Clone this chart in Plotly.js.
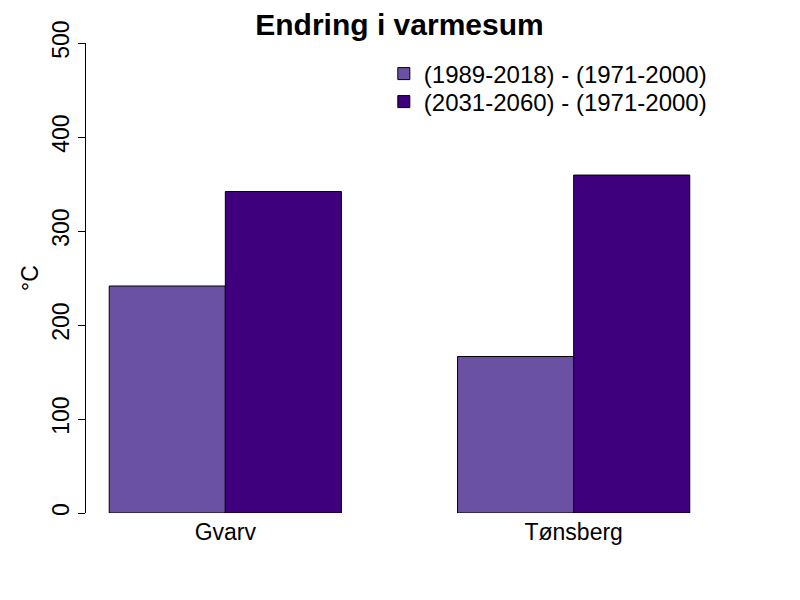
<!DOCTYPE html>
<html>
<head>
<meta charset="utf-8">
<script src="https://cdn.plot.ly/plotly-3.0.1.min.js"></script>
<style>html,body{margin:0;padding:0;background:#fff}#chart{width:800px;height:600px}</style>
</head>
<body>
<div id="chart"></div>
<script>
const categories = ["Gvarv", "Tønsberg"];
const seriesNames = ["(1989-2018) - (1971-2000)", "(2031-2060) - (1971-2000)"];
const recentChange = [241.5, 166.5];
const futureChange = [342.0, 359.5];
const yTickVals = [0, 100, 200, 300, 400, 500];
const colors = ["#6A51A3", "#3F007D"];

const FONT = "Liberation Sans, Arial, sans-serif";

const legendIds = ["legend", "legend2"];
const traces = [recentChange, futureChange].map((vals, i) => ({
  type: "bar",
  name: seriesNames[i],
  x: categories,
  y: vals,
  legend: legendIds[i],
  marker: {color: colors[i], line: {color: colors[i], width: 0}},
  hoverinfo: "skip"
}));

const legendBase = {
  x: 0.475, xanchor: "left", yanchor: "middle",
  bgcolor: "rgba(0,0,0,0)",
  font: {family: FONT, size: 24, color: "#000"},
  itemclick: false
};

const layout = {
  width: 800, height: 600,
  paper_bgcolor: "#fff", plot_bgcolor: "#fff",
  font: {family: FONT, color: "#000", size: 23},
  margin: {l: 86, r: 87, t: 43, b: 87, pad: 0},
  barmode: "group",
  bargap: 1/3,
  bargroupgap: 0,
  title: {
    text: "<b>Endring i varmesum</b>",
    font: {family: FONT, size: 30, color: "#000"},
    x: 0.5, xref: "paper", xanchor: "center",
    y: 1 - 24/600, yref: "container", yanchor: "middle"
  },
  xaxis: {
    type: "category",
    range: [-0.4, 1.4],
    showline: false, showgrid: false, zeroline: false,
    ticks: "", ticklabelstandoff: 3,
    tickfont: {family: FONT, size: 23, color: "#000"}
  },
  yaxis: {
    range: [0, 500],
    tickvals: yTickVals,
    ticktext: yTickVals.map(String),
    tickangle: -90,
    showline: true, linecolor: "#000", linewidth: 1,
    ticks: "outside", ticklen: 7, tickwidth: 1, tickcolor: "#000",
    showgrid: false, zeroline: false,
    tickfont: {family: FONT, size: 23, color: "#000"},
    title: {text: "°C", font: {family: FONT, size: 23, color: "#000"}, standoff: 2}
  },
  legend: Object.assign({}, legendBase, {y: (513 - 74) / 470}),
  legend2: Object.assign({}, legendBase, {y: (513 - 102) / 470}),
  showlegend: true
};

Plotly.newPlot("chart", traces, layout, {displayModeBar: false, staticPlot: true}).then(() => {
  // draw black outlines on the bars (legend symbols stay unoutlined like R's pch 15)
  Plotly.restyle("chart", {"marker.line.color": "#000", "marker.line.width": 1});
});
</script>
</body>
</html>
